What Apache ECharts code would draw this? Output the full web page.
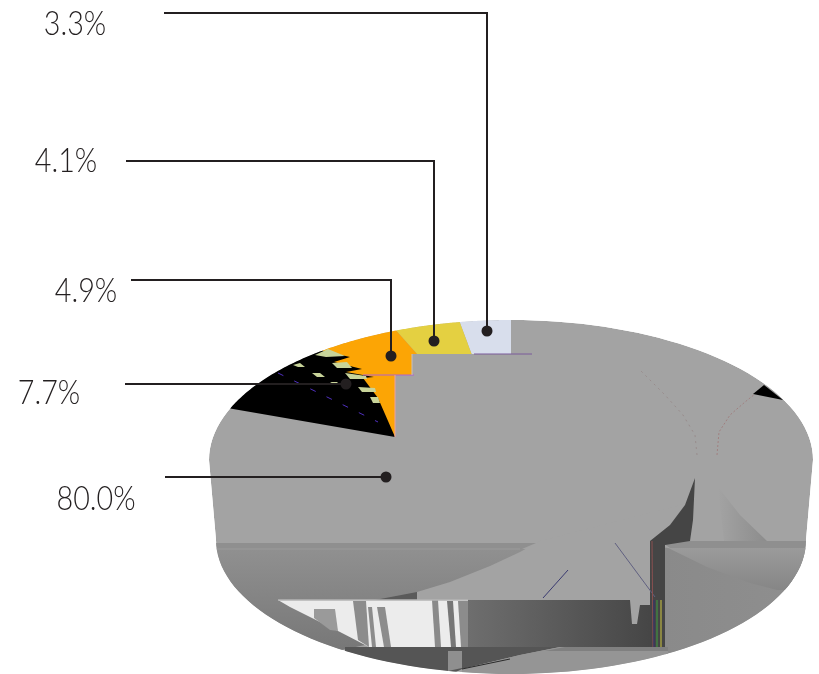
<!DOCTYPE html>
<html>
<head>
<meta charset="utf-8">
<style>html,body{margin:0;padding:0;background:#fff}#c{width:819px;height:674px}</style>
<script src="https://cdn.jsdelivr.net/npm/echarts@6/dist/echarts.min.js"></script>
</head>
<body>
<div id="c"></div>
<script>
// ---- data ----
var sliceLabels = ['3.3%', '4.1%', '4.9%', '7.7%', '80.0%'];
var sliceValues = [3.3, 4.1, 4.9, 7.7, 80.0];
var sliceColors = ['#d8deec', '#e4d041', '#fca505', '#000000', '#a3a3a3'];

// ---- leader-line layout (annotation placement, not data) ----
var labelX = [75, 66, 86, 49, 96];
var labelY = [24, 161, 291, 393, 499];
var leaderStartX = [164, 126, 131, 125, 165];
var leaderY = [13, 161, 280, 384, 477];
var dotX = [487, 434, 391, 346, 386];
var dotY = [331, 341, 356, 384, 477];

var CX = 511, CY = 460, RX = 302, RY = 140, BCY = 540, BRX = 295, BRY = 134;
var APEX = [395, 437];
var GRAY = '#a3a3a3';
var total = sliceValues.reduce(function (a, b) { return a + b; }, 0);

function rimAngle(pct) { // value share -> foreshortened ellipse parameter
  var a = pct / total * 2 * Math.PI;
  return Math.atan2(0.82 * Math.sin(a), Math.cos(a));
}
function rim(t) { return [CX - RX * Math.sin(t), CY - RY * Math.cos(t)]; }
function arc(from, to) {
  var pts = [], t0 = rimAngle(from), t1 = rimAngle(to);
  if (t1 < t0) t1 += 2 * Math.PI;
  for (var i = 0; i <= 48; i++) pts.push(rim(t0 + (t1 - t0) * i / 48));
  return pts;
}
function bodyOutline() {
  var p = [], i, t;
  for (i = 0; i <= 80; i++) { t = Math.PI + Math.PI * i / 80; p.push([CX + RX * Math.cos(t), CY + RY * Math.sin(t)]); }
  for (i = 0; i <= 80; i++) { t = Math.PI * i / 80; p.push([CX + BRX * Math.cos(t), BCY + BRY * Math.sin(t)]); }
  return p;
}
function poly(points, fill) {
  return { type: 'polygon', shape: { points: points }, style: { fill: fill } };
}
function seg(x1, y1, x2, y2, color, w) {
  return { type: 'line', shape: { x1: x1, y1: y1, x2: x2, y2: y2 }, style: { stroke: color, lineWidth: w || 1, fill: null } };
}
function vgrad(c0, c1) { return new echarts.graphic.LinearGradient(0, 0, 0, 1, [{ offset: 0, color: c0 }, { offset: 1, color: c1 }]); }
function hgrad(c0, c1) { return new echarts.graphic.LinearGradient(0, 0, 1, 0, [{ offset: 0, color: c0 }, { offset: 1, color: c1 }]); }

// rendering-glitch texture of the extruded side, drawn behind the slices
function renderBody() {
  var outline = bodyOutline();
  var kids = [
    poly(outline, GRAY),
    // left side below the top face
    poly([[200, 549], [530, 549], [530, 610], [200, 680]], vgrad('#909090', '#707070')),
    // central lighter cone
    poly([[417, 601], [417, 592], [450, 582], [490, 566], [520, 552], [540, 541], [700, 500], [700, 601]], GRAY),
    poly([[375, 600], [417, 592], [417, 601]], '#5a5a5a'),
    poly([[200, 543], [536, 543], [522, 549], [200, 549]], '#8f8f8f'),
    seg(200, 549, 520, 549, '#9a9a9a', 1),
    // right wedge
    poly([[718, 487], [740, 515], [767, 541], [724, 541]], hgrad('#a3a3a3', '#8c8c8c')),
    poly([[660, 541], [820, 541], [820, 548], [670, 548]], '#8f8f8f'),
    poly([[665, 548], [820, 548], [820, 680], [665, 680]], hgrad('#8a8a8a', '#8f8f8f')),
    poly([[662, 545], [707, 567], [750, 583], [777, 590], [820, 590], [820, 548], [665, 548]], vgrad('#9c9c9c', '#868686')),
    // dark wedge to the left of the strip
    poly([[650, 541], [670, 525], [685, 505], [695, 478], [693, 520], [690, 541], [665, 545], [665, 647], [650, 647]], '#454545'),
    // notch and dark panel
    poly([[468, 600], [630, 600], [632, 624], [637, 624], [640, 605], [650, 605], [650, 647], [468, 647]], hgrad('#6e6e6e', '#464646')),
    // white panel
    poly([[278, 600], [468, 600], [468, 647], [369, 647], [340, 632], [290, 607]], '#ececec'),
    poly([[314, 609], [335, 609], [338, 631], [330, 630], [314, 618]], '#9a9a9a'),
    poly([[353, 601], [366, 601], [369, 647], [358, 640]], '#8c8c8c'),
    poly([[368, 607], [372, 607], [376, 647], [372, 647]], '#8c8c8c'),
    poly([[377, 607], [385, 607], [391, 647], [384, 647]], '#8c8c8c'),
    poly([[432, 600], [438, 600], [441, 647], [435, 647]], '#8a8a8a'),
    poly([[447, 601], [453, 601], [456, 647], [451, 647]], '#777777'),
    poly([[458, 601], [468, 601], [468, 647], [461, 647]], '#8c8c8c'),
    seg(278, 600, 468, 600, '#b5b5b5', 1.5),
    // bottom band
    poly([[345, 647], [560, 647], [520, 655], [462, 669], [440, 680], [345, 680]], '#555555'),
    poly([[448, 651], [462, 651], [462, 668], [448, 671]], '#8f8f8f'),
    poly([[560, 647], [668, 647], [668, 680], [462, 680], [462, 669], [520, 655]], '#959595'),
    poly([[565, 647], [668, 647], [668, 651], [545, 651]], '#808080'),
    seg(462, 669, 510, 659, '#2a2a2a', 1),
    // thin glitch lines on the cone and the strip
    seg(543, 598, 568, 570, '#3a3a70', 1),
    seg(615, 543, 655, 597, '#606080', 1),
    seg(652, 541, 653, 647, '#8a5050', 1),
    seg(661, 600, 661, 647, '#d0c840', 1),
    seg(654, 600, 654, 647, '#303070', 1),
    seg(657, 600, 657, 647, '#40a040', 1),
    // the two arcs on the right of the body
    { type: 'polyline', shape: { points: [[717, 455], [719, 432], [730, 415], [745, 402], [755, 394]] }, style: { stroke: '#a08080', lineWidth: 1, lineDash: [2, 2], fill: null } },
    { type: 'polyline', shape: { points: [[697, 455], [695, 435], [683, 415], [665, 395], [640, 370]] }, style: { stroke: '#988c8c', lineWidth: 1, lineDash: [2, 4], fill: null } },
    poly([[753, 394], [764, 385], [783, 400]], '#000000')
  ];
  return { type: 'group', clipPath: { type: 'polygon', shape: { points: outline } }, children: kids };
}

// one slice per value: its rim arc comes from the value, and the leader goes with it
function renderSlice(params, api) {
  var i = params.dataIndex, before = 0;
  for (var k = 0; k < i; k++) before += sliceValues[k];
  var after = before + api.value(0);
  var kids = [];
  if (i < 4) {
    var pts = arc(before, after);
    if (i < 2) pts = [[CX, CY]].concat(pts);
    if (i === 2) pts = [[CX, CY]].concat(pts).concat([APEX]);
    if (i === 3) pts = pts.slice().reverse().concat([
      [350, 357], [334, 362], [362, 369], [346, 372], [374, 377], [363, 378], [378, 398], [395, 437]
    ]);
    kids.push(poly(pts, sliceColors[i]));
  }
  if (i === 3) {
    var green = '#c8d49a';
    [[[315, 355], [328, 349], [345, 356], [326, 357]],
     [[332, 363], [347, 362], [352, 368], [337, 368]],
     [[345, 373], [366, 376], [367, 379], [350, 379]],
     [[358, 387], [375, 388], [376, 392], [362, 392]],
     [[370, 397], [378, 397], [380, 403], [373, 403]],
     [[293, 365], [300, 363], [305, 367], [298, 367]],
     [[312, 373], [320, 373], [325, 377], [317, 377]],
     [[330, 382], [337, 382], [340, 385], [335, 385]]].forEach(function (g) { kids.push(poly(g, green)); });
    kids.push({ type: 'line', shape: { x1: 278, y1: 373, x2: 378, y2: 422 }, style: { stroke: '#5030c0', lineWidth: 1, lineDash: [6, 12], fill: null } });
  }
  if (i === 4) {
    // stepped edge where the grey slice covers the coloured ones
    kids.push(poly([[412, 354], [532, 354], [532, 470], [395, 470], [395, 375], [412, 375]], GRAY));
    kids.push(seg(474, 354, 532, 354, '#7a5a9a', 1));
    kids.push(seg(363, 375, 414, 375, '#b060d0', 1));
    kids.push(seg(412, 354, 412, 375, '#c8c0c0', 1));
    kids.push(seg(395, 375, 395, 437, '#f0a0a0', 1));
  }
  return { type: 'group', children: kids };
}

function renderLeader(params, api) {
  var i = params.dataIndex, pts;
  if (leaderY[i] === dotY[i]) pts = [[leaderStartX[i], leaderY[i]], [dotX[i], dotY[i]]];
  else pts = [[leaderStartX[i], leaderY[i]], [dotX[i], leaderY[i]], [dotX[i], dotY[i]]];
  return {
    type: 'group',
    children: [
      { type: 'polyline', shape: { points: pts }, style: { stroke: '#231f20', lineWidth: 2, fill: null } },
      { type: 'circle', shape: { cx: dotX[i], cy: dotY[i], r: 5.5 }, style: { fill: '#231f20' } },
      { type: 'text', x: labelX[i], y: labelY[i], scaleX: 0.87, style: {
        text: sliceLabels[i], fill: '#231f20', align: 'center', verticalAlign: 'middle',
        font: '300 33px Lato, "Open Sans", sans-serif' } }
    ]
  };
}

var chart = echarts.init(document.getElementById('c'), null, { renderer: 'canvas' });
chart.setOption({
  backgroundColor: '#ffffff',
  animation: false,
  series: [
    { type: 'custom', coordinateSystem: 'none', z: 1, silent: true, data: [[0]], renderItem: renderBody },
    { type: 'custom', coordinateSystem: 'none', z: 2, silent: true, data: sliceValues.map(function (v) { return [v]; }), renderItem: renderSlice },
    { type: 'custom', coordinateSystem: 'none', z: 3, silent: true, data: sliceValues.map(function (v) { return [v]; }), renderItem: renderLeader }
  ]
});
</script>
</body>
</html>
